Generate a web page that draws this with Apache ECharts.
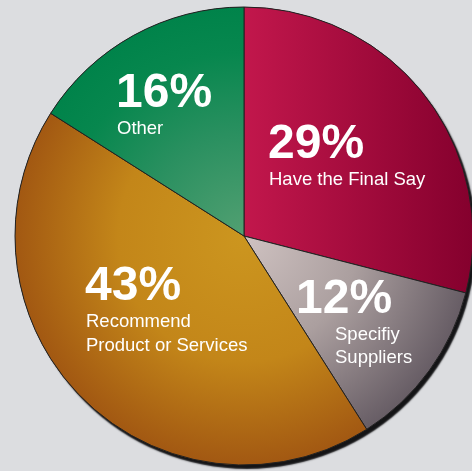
<!DOCTYPE html>
<html>
<head>
<meta charset="utf-8">
<script src="https://cdn.jsdelivr.net/npm/echarts@6/dist/echarts.min.js"></script>
<style>
html,body{margin:0;padding:0;background:#dcdde0;}
#c{width:472px;height:471px;}
</style>
</head>
<body>
<div id="c"></div>
<script>
// ---- data ----
var categories = ['Have the Final Say', 'Specifiy\nSuppliers', 'Recommend\nProduct or Services', 'Other'];
var shares = [29, 12, 43, 16];

// ---- layout / style (kept separate from data) ----
var CX = 244, CY = 236, R = 229;
var labelPos = [[268, 122], [296, 277], [85, 264], [116, 71]];
var nameStyle = ['n', 'm', 'n', 'n'];

function radial(stops) {
  return { type: 'radial', x: CX, y: CY, r: R, global: true,
    colorStops: stops.map(function (s) { return { offset: s[0], color: s[1] }; }) };
}
var fills = [
  { type: 'linear', x: CX, y: 0, x2: 475, y2: 0, global: true,
    colorStops: [{ offset: 0, color: '#c2174c' }, { offset: 1, color: '#84002d' }] },
  radial([[0, '#cfc2c1'], [0.5, '#ab9f9f'], [1, '#675d65']]),
  radial([[0, '#cc961f'], [0.55, '#c38619'], [1, '#a25812']]),
  radial([[0, '#52a072'], [0.45, '#2a9060'], [0.8, '#07874e'], [1, '#00834a']])
];

var chart = echarts.init(document.getElementById('c'), null, { renderer: 'canvas' });
var font = 'Liberation Sans, Arial, Helvetica, sans-serif';
chart.setOption({
  backgroundColor: '#dcdde0',
  animation: false,
  series: [
    {
      type: 'pie', silent: true, z: 1,
      center: [CX, CY], radius: R,
      label: { show: false }, labelLine: { show: false },
      itemStyle: { color: '#1c1c1e', shadowColor: 'rgba(20,20,22,1)', shadowBlur: 1.5, shadowOffsetX: 3, shadowOffsetY: 4 },
      data: [{ value: 1, name: '' }]
    },
    {
      type: 'pie', z: 2,
      center: [CX, CY], radius: R,
      startAngle: 90, clockwise: true,
      avoidLabelOverlap: false,
      itemStyle: { borderColor: '#222', borderWidth: 1 },
      label: {
        show: true, position: 'inside',
        formatter: function (p) {
          return '{p|' + p.value + '%}\n' + p.name.split('\n').map(function (l) {
            return '{' + nameStyle[p.dataIndex] + '|' + l + '}';
          }).join('\n');
        },
        align: 'left', verticalAlign: 'top',
        rich: {
          p: { fontFamily: font, fontWeight: 'bold', fontSize: 48, lineHeight: 46, color: '#fff' },
          n: { fontFamily: font, fontSize: 18.5, lineHeight: 24, color: '#fff', padding: [0, 0, 0, 1] },
          m: { fontFamily: font, fontSize: 18.5, lineHeight: 23, color: '#fff', padding: [0, 0, 0, 39] }
        }
      },
      labelLine: { show: false },
      labelLayout: function (params) {
        var p = labelPos[params.dataIndex];
        return { x: p[0], y: p[1], align: 'left', verticalAlign: 'top' };
      },
      data: categories.map(function (c, i) {
        return { name: c, value: shares[i], itemStyle: { color: fills[i] } };
      })
    }
  ]
});
</script>
</body>
</html>
